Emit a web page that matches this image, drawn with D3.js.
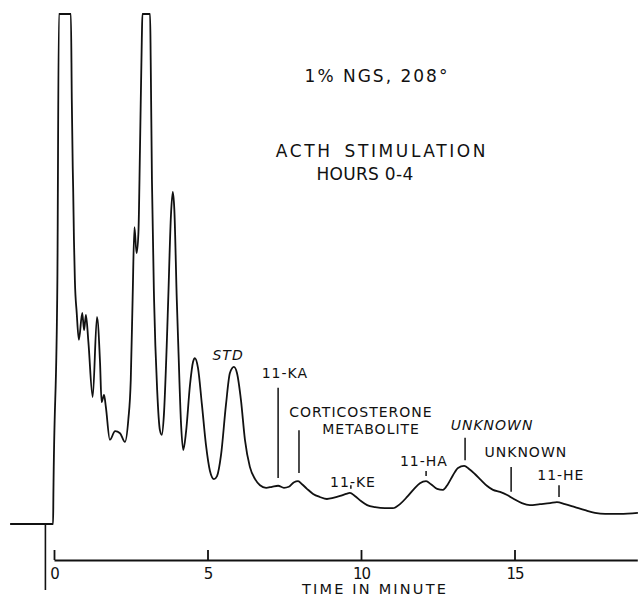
<!DOCTYPE html>
<html>
<head>
<meta charset="utf-8">
<script src="https://cdn.jsdelivr.net/npm/d3@7"></script>
<style>
  html, body { margin: 0; padding: 0; background: #fff; }
  svg { display: block; }
  text { font-family: "DejaVu Sans", sans-serif; fill: #111; }
</style>
</head>
<body>
<svg id="chart" width="638" height="598"></svg>
<script>
// ---- Data (time in minutes, detector response in % of full scale) ----
const times = [
  -1.43, -0.03, -0.02, 0.11, 0.16, 0.55, 0.58, 0.61, 0.625, 0.65,
  0.68, 0.74, 0.81, 0.92, 0.98, 1.04, 1.12, 1.26, 1.40, 1.50,
  1.55, 1.63, 1.69, 1.82, 1.99, 2.15, 2.31, 2.42, 2.50, 2.56,
  2.62, 2.69, 2.75, 2.80, 2.86, 2.88, 3.13, 3.15, 3.19, 3.26,
  3.36, 3.45, 3.51, 3.58, 3.67, 3.72, 3.81, 3.87, 3.92, 4.00,
  4.05, 4.14, 4.21, 4.30, 4.43, 4.53, 4.59, 4.69, 4.82, 4.95,
  5.08, 5.21, 5.31, 5.44, 5.60, 5.73, 5.86, 5.96, 6.09, 6.22,
  6.38, 6.55, 6.71, 6.91, 7.10, 7.30, 7.49, 7.65, 7.82, 7.95,
  8.08, 8.24, 8.44, 8.66, 8.89, 9.09, 9.32, 9.51, 9.64, 9.80,
  10.00, 10.20, 10.46, 10.78, 11.04, 11.27, 11.50, 11.73, 11.92, 12.12,
  12.28, 12.48, 12.67, 12.83, 13.00, 13.16, 13.36, 13.52, 13.71, 13.91,
  14.10, 14.30, 14.53, 14.76, 14.98, 15.24, 15.50, 15.83, 16.16, 16.38,
  16.64, 16.97, 17.30, 17.62, 17.95, 18.44, 19.02
];
const response = [
  0, 0, 5.7, 47.8, 100, 100, 83.1, 70.0, 65.5, 55.7,
  47.8, 41.4, 36.1, 41.4, 38.0, 41.0, 35.7, 24.9, 40.6, 31.6,
  23.9, 25.3, 22.9, 16.5, 18.2, 17.8, 16.1, 20.4, 28.2, 43.9,
  58.2, 53.1, 57.1, 73.3, 94.9, 100, 100, 91.0, 67.5, 43.9,
  26.3, 18.4, 17.5, 21.4, 34.7, 43.9, 60.6, 65.1, 61.6, 43.9,
  34.7, 19.4, 14.5, 18.0, 27.3, 31.8, 32.5, 30.6, 23.3, 15.5,
  10.4, 8.8, 9.4, 13.5, 23.3, 29.6, 30.8, 29.6, 24.3, 16.5,
  11.2, 8.8, 7.6, 7.1, 7.3, 7.5, 7.1, 7.3, 8.2, 8.4,
  7.8, 6.9, 5.9, 5.3, 4.9, 5.1, 5.5, 5.9, 6.1, 5.5,
  4.5, 3.7, 3.3, 3.1, 3.1, 3.9, 5.3, 6.9, 8.0, 8.4,
  7.8, 6.9, 6.7, 7.8, 9.6, 11.0, 11.4, 10.8, 9.8, 8.6,
  7.5, 6.7, 6.3, 5.7, 4.9, 4.1, 3.7, 3.9, 4.1, 4.3,
  3.9, 3.3, 2.7, 2.2, 2.0, 2.0, 2.2
];
const tickValues = [0, 5, 10, 15];
const tickLabels = ["0", "5", "10", "15"];
const injectionTime = -0.28;

// Peak marker lines (time, top response, bottom response)
const markerTimes  = [7.30, 7.98, 9.67, 12.12, 13.39, 14.89, 16.45];
const markerTops   = [26.7, 18.4, 7.6, 10.4, 16.9, 11.2, 7.6];
const markerBottoms= [9.0, 10.0, 6.9, 9.4, 12.5, 6.3, 5.3];

// Peak labels (text, centre time, baseline response, italic)
const labelTexts  = ["STD", "11-KA", "CORTICOSTERONE", "METABOLITE", "11-KE", "11-HA", "UNKNOWN", "UNKNOWN", "11-HE"];
const labelTimes  = [5.67, 7.52, 10.0, 10.33, 9.74, 12.05, 14.27, 15.37, 16.51];
const labelLevels = [32.2, 28.6, 21.0, 17.6, 7.3, 11.4, 18.4, 13.1, 8.6];
const labelItalic = [true, false, false, false, false, false, true, false, false];

const titleLines = ["1% NGS, 208°", "ACTH STIMULATION", "HOURS 0-4"];
const xTitle = "TIME IN MINUTE";

// ---- Drawing ----
const svg = d3.select("#chart");
svg.append("rect").attr("width", 638).attr("height", 598).attr("fill", "#fff");

const x = d3.scaleLinear().domain([0, 19]).range([54, 637.3]);
const y = d3.scaleLinear().domain([0, 100]).range([524, 14]);
const axisY = 560;

const pts = times.map((t, i) => [t, response[i]]);
const line = d3.line()
  .x(d => x(d[0]))
  .y(d => y(d[1]))
  .curve(d3.curveMonotoneX);

svg.append("path")
  .datum(pts)
  .attr("d", line)
  .attr("fill", "none")
  .attr("stroke", "#111")
  .attr("stroke-width", 1.8)
  .attr("stroke-linejoin", "round");

// injection marker
svg.append("line")
  .attr("x1", x(injectionTime)).attr("x2", x(injectionTime))
  .attr("y1", y(0)).attr("y2", axisY + 30)
  .attr("stroke", "#111").attr("stroke-width", 1.6);

// x axis
const axis = d3.axisBottom(x)
  .tickValues(tickValues)
  .tickFormat((d, i) => tickLabels[i])
  .tickSizeInner(-10)
  .tickSizeOuter(0)
  .tickPadding(8);
const gAxis = svg.append("g").attr("transform", `translate(0,${axisY})`).call(axis);
gAxis.select(".domain").attr("stroke", "#111").attr("stroke-width", 2);
gAxis.selectAll(".tick line").attr("stroke", "#111").attr("stroke-width", 1.8);
gAxis.selectAll(".tick text")
  .style("font-family", '"DejaVu Sans", sans-serif')
  .style("font-size", "15px")
  .style("letter-spacing", "-1px")
  .attr("fill", "#111");

svg.append("text")
  .attr("x", 375).attr("y", 594)
  .attr("text-anchor", "middle")
  .style("font-size", "14.5px")
  .style("letter-spacing", "2.2px")
  .text(xTitle);

// markers
markerTimes.forEach((t, i) => {
  svg.append("line")
    .attr("x1", x(t)).attr("x2", x(t))
    .attr("y1", y(markerTops[i])).attr("y2", y(markerBottoms[i]))
    .attr("stroke", "#111").attr("stroke-width", 1.5);
});

// labels
labelTexts.forEach((s, i) => {
  svg.append("text")
    .attr("x", x(labelTimes[i])).attr("y", y(labelLevels[i]))
    .attr("text-anchor", "middle")
    .style("font-size", "14px")
    .style("letter-spacing", "1px")
    .style("font-style", labelItalic[i] ? "italic" : "normal")
    .text(s);
});

// titles
const titlePos = [[377, 82], [382, 157], [365, 180]];
const titleSpacing = ["2px", "2.6px", "0.3px"];
titleLines.forEach((s, i) => {
  svg.append("text")
    .attr("x", titlePos[i][0]).attr("y", titlePos[i][1])
    .attr("text-anchor", "middle")
    .style("font-size", "17px")
    .style("letter-spacing", titleSpacing[i])
    .style("word-spacing", i === 1 ? "4px" : "0px")
    .text(s);
});
</script>
</body>
</html>
